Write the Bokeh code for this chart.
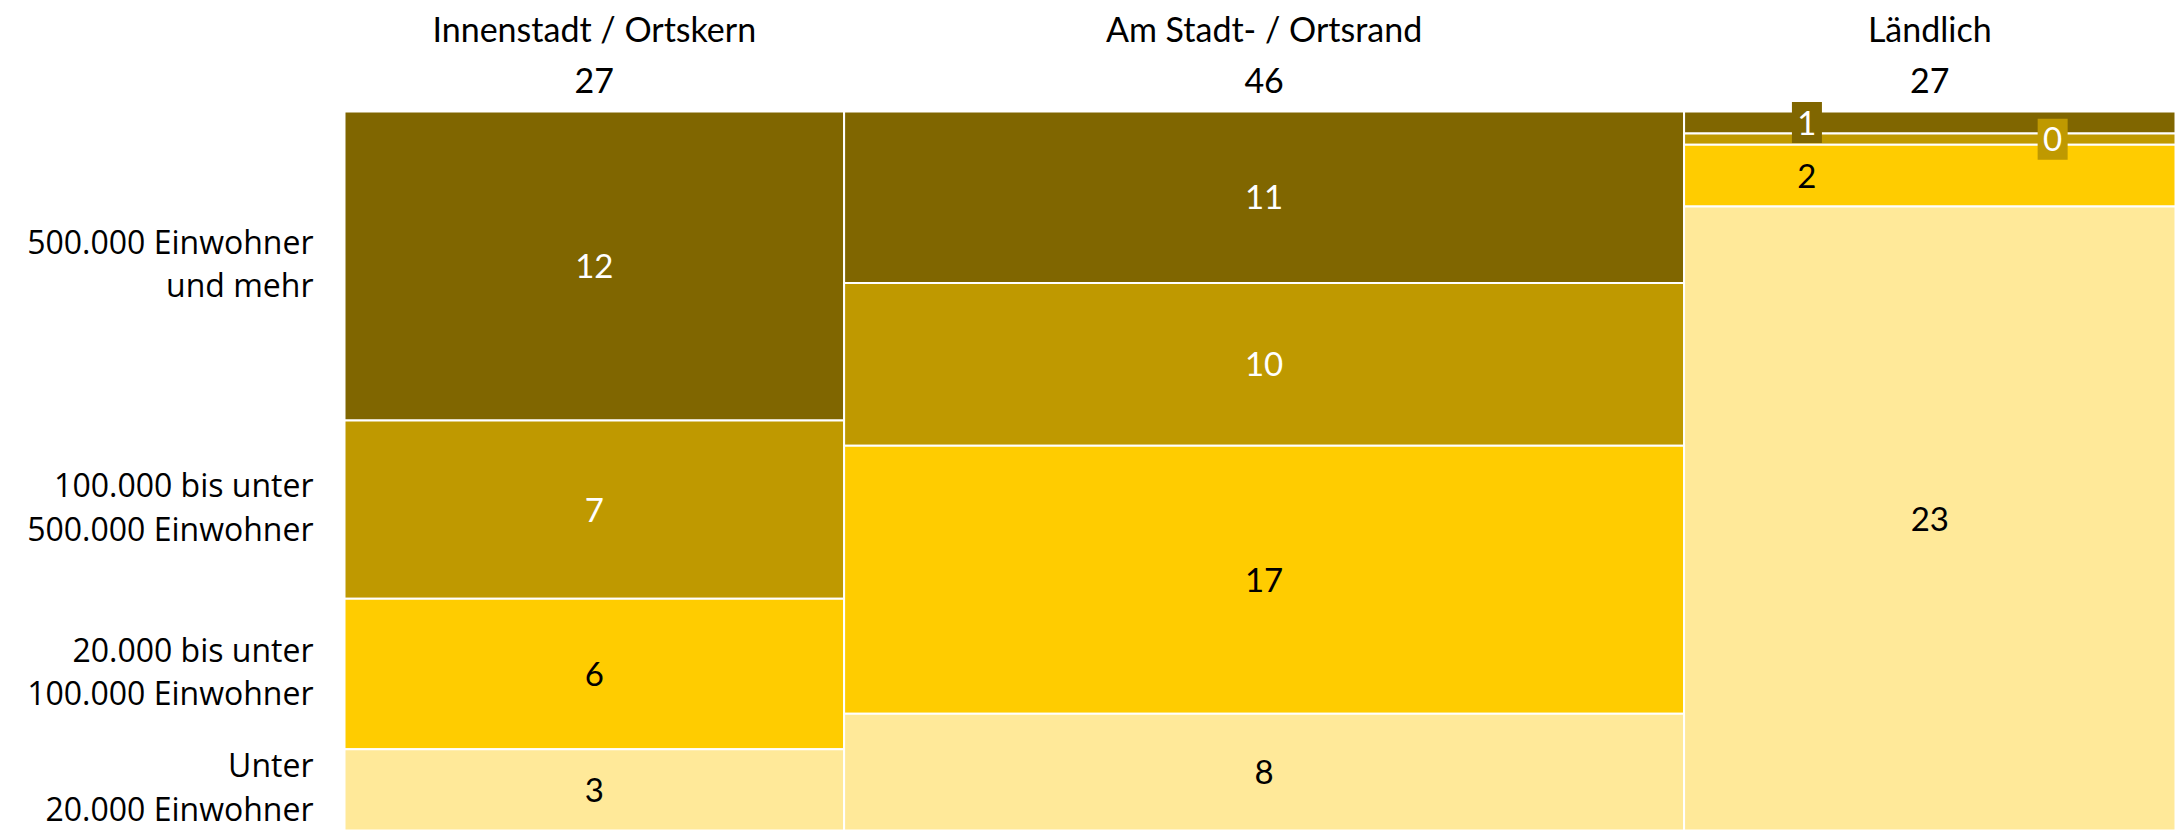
from bokeh.plotting import figure
from bokeh.models import Range1d, ColumnDataSource
from bokeh.core.properties import value
from bokeh.embed import file_html
from bokeh.resources import INLINE

# ---------------- data ----------------
locations = ["Innenstadt / Ortskern", "Am Stadt- / Ortsrand", "Ländlich"]
size_classes = [
    "500.000 Einwohner\nund mehr",
    "100.000 bis unter\n500.000 Einwohner",
    "20.000 bis unter\n100.000 Einwohner",
    "Unter\n20.000 Einwohner",
]
# share (%) of all cases per cell, from largest to smallest town size
innenstadt = [11.8, 6.8, 5.75, 3.1]
stadtrand = [11.0, 10.45, 17.2, 7.5]
laendlich = [0.83, 0.42, 2.32, 23.43]
columns = [innenstadt, stadtrand, laendlich]

colors = ["#806600", "#BF9900", "#FFCC00", "#FFE999"]
text_colors = ["white", "white", "black", "black"]

# ---------------- layout ----------------
W, H = 2175, 830
LM, TM = 344, 111          # pixels for row labels / column headers
totals = [sum(c) for c in columns]
xtot = sum(totals)
s = (W - LM) / xtot        # px per unit on x


def ypx(p):
    return -(TM - p) / (H - TM)


def xpx(p):
    return -(LM - p) / s


def rnd(v):
    return int(v + 0.5)


p = figure(width=W, height=H, output_backend="svg", toolbar_location=None,
           x_axis_type=None, y_axis_type=None,
           x_range=Range1d(-LM / s, xtot), y_range=Range1d(1.0, ypx(0)),
           min_border=0, outline_line_color=None)
p.grid.visible = False
p.background_fill_color = "white"
p.border_fill_color = "white"

q = dict(left=[], right=[], top=[], bottom=[], color=[])
lab = dict(x=[], y=[], text=[], color=[])
box = dict(x=[], y=[], color=[])
label_frac = {(2, 0): 0.25, (2, 1): 0.75, (2, 2): 0.25}

x0 = 0.0
for ci, col in enumerate(columns):
    x1 = x0 + totals[ci]
    cum = 0.0
    for ri, v in enumerate(col):
        share = v / totals[ci]
        q["left"].append(x0)
        q["right"].append(x1)
        q["top"].append(cum)
        q["bottom"].append(cum + share)
        q["color"].append(colors[ri])
        fx = label_frac.get((ci, ri), 0.5)
        lx = x0 + fx * (x1 - x0)
        ly = cum + share / 2
        lab["x"].append(lx)
        lab["y"].append(ly)
        lab["text"].append(str(rnd(v)))
        lab["color"].append(text_colors[ri])
        if share < 0.05:
            box["x"].append(lx)
            box["y"].append(ly)
            box["color"].append(colors[ri])
        cum += share
    x0 = x1

p.quad(left="left", right="right", top="top", bottom="bottom", source=ColumnDataSource(q),
       fill_color="color", line_color="white", line_width=2)
p.rect(x="x", y="y", width=30, height=41, width_units="screen", height_units="screen",
       source=ColumnDataSource(box), fill_color="color", line_color=None)
p.text(x="x", y="y", text="text", text_color="color", source=ColumnDataSource(lab),
       text_font=value("Lato"), text_font_size="33px", text_align="center",
       text_baseline="middle")

# column headers and totals
centers = []
x0 = 0.0
for t in totals:
    centers.append(x0 + t / 2)
    x0 += t
p.text(x=centers, y=[ypx(28)] * 3, text=locations, text_font=value("Lato"),
       text_font_size="34px", text_align="center", text_baseline="middle", text_color="black")
p.text(x=centers, y=[ypx(80)] * 3, text=[str(rnd(t)) for t in totals], text_font=value("Lato"),
       text_font_size="34px", text_align="center", text_baseline="middle", text_color="black")

# row labels, aligned with first column's segments
ys = []
cum = 0.0
shift = 3 / (H - TM)
for v in innenstadt:
    sh = v / totals[0]
    ys.append(cum + sh / 2 - shift)
    cum += sh
p.text(x=[xpx(313)] * 4, y=ys, text=size_classes, text_font=value("Open Sans"),
       text_font_size="32px", text_align="right", text_baseline="middle",
       text_line_height=1.02, text_color="black")

open("out.html", "w").write(file_html(p, INLINE))
